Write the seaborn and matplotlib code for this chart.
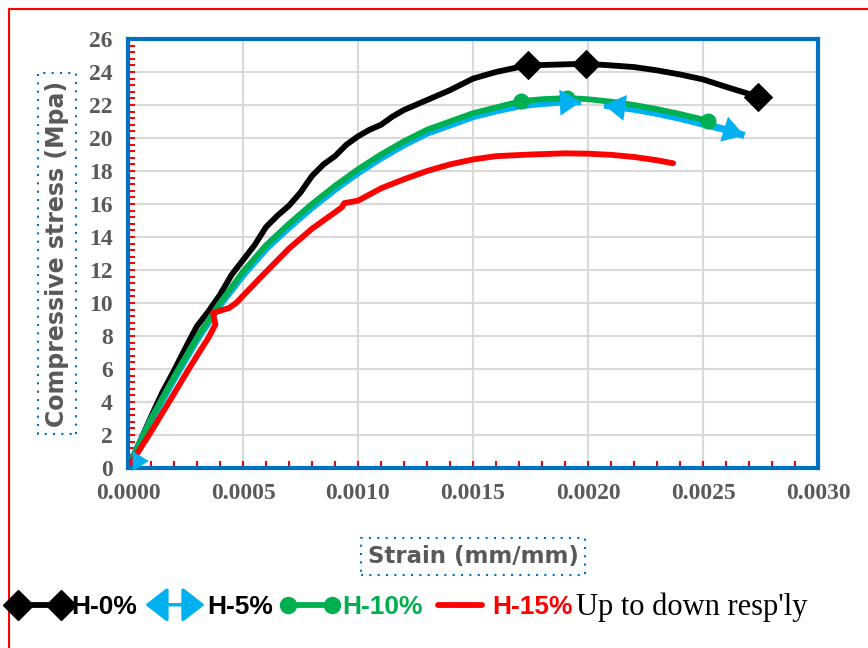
import numpy as np
import pandas as pd
import matplotlib
matplotlib.use("Agg")
import matplotlib.pyplot as plt
import seaborn as sns
from matplotlib.lines import Line2D
from matplotlib.patches import FancyArrowPatch
from matplotlib.legend_handler import HandlerBase
from matplotlib.ticker import MultipleLocator, FormatStrFormatter
from matplotlib.transforms import offset_copy

# ---------------- data ----------------
series_names = ["H-0%", "H-5%", "H-10%", "H-15%"]

black_strain = [0, 0.0001, 0.00015, 0.0002, 0.00026, 0.0003, 0.00035, 0.0004, 0.00045, 0.0005,
                0.00055, 0.0006, 0.00065, 0.0007, 0.00075, 0.0008, 0.00085, 0.0009, 0.00095, 0.001,
                0.00105, 0.0011, 0.00115, 0.0012, 0.0013, 0.0014, 0.0015, 0.0016, 0.0017, 0.00174,
                0.00199, 0.0021, 0.0022, 0.0023, 0.0024, 0.0025, 0.0026, 0.00274]
black_stress = [0, 3.1, 4.6, 5.9, 7.55, 8.6, 9.5, 10.5, 11.7, 12.6,
                13.5, 14.6, 15.3, 15.9, 16.7, 17.7, 18.4, 18.9, 19.6, 20.1,
                20.5, 20.8, 21.3, 21.7, 22.3, 22.9, 23.6, 24.0, 24.3, 24.4,
                24.5, 24.4, 24.3, 24.1, 23.85, 23.55, 23.1, 22.5]

blue_strain_a = [0, 0.0001, 0.0002, 0.0003, 0.0004, 0.0005, 0.0006, 0.0007, 0.0008, 0.0009, 0.001,
                 0.0011, 0.0012, 0.0013, 0.0014, 0.0015, 0.0016, 0.0017, 0.0018, 0.0019, 0.00197]
blue_stress_a = [0, 2.9, 5.4, 7.8, 9.9, 11.7, 13.3, 14.6, 15.8, 16.9, 17.9,
                 18.8, 19.6, 20.3, 20.8, 21.3, 21.65, 21.95, 22.1, 22.2, 22.2]
blue_strain_b = [0.00207, 0.0022, 0.0023, 0.0024, 0.0025, 0.0026, 0.00268]
blue_stress_b = [22.0, 21.75, 21.5, 21.2, 20.85, 20.5, 20.15]

green_strain = [0, 0.0001, 0.0002, 0.0003, 0.0004, 0.0005, 0.0006, 0.0007, 0.0008, 0.0009, 0.001,
                0.0011, 0.0012, 0.0013, 0.0014, 0.0015, 0.0016, 0.00171, 0.0018, 0.00191, 0.002,
                0.0021, 0.0022, 0.0023, 0.0024, 0.00252]
green_stress = [0, 2.95, 5.5, 7.9, 10.0, 11.9, 13.5, 14.8, 16.0, 17.1, 18.1,
                19.0, 19.8, 20.5, 21.0, 21.5, 21.85, 22.24, 22.35, 22.42, 22.35,
                22.2, 22.0, 21.75, 21.45, 21.05]

red_strain = [0, 0.0001, 0.0002, 0.00026, 0.0003, 0.00035, 0.00038, 0.00037, 0.00044, 0.00047,
              0.00058, 0.0007, 0.0008, 0.0009, 0.00093, 0.00094, 0.001, 0.0011, 0.0012, 0.0013,
              0.0014, 0.0015, 0.0016, 0.00175, 0.0019, 0.002, 0.0021, 0.0022, 0.0023, 0.00237]
red_stress = [0, 2.2, 4.5, 5.9, 6.8, 7.9, 8.7, 9.4, 9.7, 10.0,
              11.6, 13.3, 14.5, 15.5, 15.8, 16.05, 16.2, 16.95, 17.5, 18.0,
              18.4, 18.7, 18.9, 19.0, 19.07, 19.05, 18.98, 18.85, 18.65, 18.47]

black_mark_strain = [0.00174, 0.00199, 0.00274]
black_mark_stress = [24.4, 24.5, 22.5]
green_mark_strain = [0.00171, 0.00191, 0.00252]
green_mark_stress = [22.24, 22.42, 21.05]

x_ticks = [0, 0.0005, 0.001, 0.0015, 0.002, 0.0025, 0.003]
y_ticks = list(range(0, 27, 2))

# ---------------- styling ----------------
BLACK, BLUE, GREEN, RED = "#000000", "#00B0F0", "#00B050", "#FF0000"
palette = dict(zip(series_names, [BLACK, BLUE, GREEN, RED]))
GREY = "#595959"

sns.set_style("white")
fig = plt.figure(figsize=(8.68, 6.48), dpi=100)
ax = fig.add_axes([128 / 868, 1 - 468 / 648, 690 / 868, 429 / 648])

frames = []
for name, seg, xs, ys in [("H-0%", "a", black_strain, black_stress),
                          ("H-5%", "a", blue_strain_a, blue_stress_a),
                          ("H-5%", "b", blue_strain_b, blue_stress_b),
                          ("H-10%", "a", green_strain, green_stress),
                          ("H-15%", "a", red_strain, red_stress)]:
    frames.append(pd.DataFrame({"strain": xs, "stress": ys, "series": name, "seg": name + seg}))
df = pd.concat(frames, ignore_index=True)

sns.lineplot(data=df, x="strain", y="stress", hue="series", hue_order=series_names,
             units="seg", estimator=None, sort=False, palette=palette,
             linewidth=4.2, legend=False, ax=ax)
for ln in ax.lines:
    ln.set_solid_capstyle("round")
    ln.set_solid_joinstyle("round")
    if matplotlib.colors.to_hex(ln.get_color()).lower() == BLUE.lower():
        ln.set_linewidth(5.2)
        ln.set_solid_capstyle("butt")

sns.scatterplot(x=black_mark_strain, y=black_mark_stress, marker="D", s=15 ** 2,
                color=BLACK, linewidth=0, ax=ax, zorder=5, clip_on=False)
sns.scatterplot(x=green_mark_strain, y=green_mark_stress, marker="o", s=11.5 ** 2,
                color=GREEN, linewidth=0, ax=ax, zorder=5, clip_on=False)

# blue arrow heads
aprops = dict(arrowstyle="-|>,head_length=0.9,head_width=0.55", mutation_scale=17,
              color=BLUE, lw=0, shrinkA=0, shrinkB=0)
ax.annotate("", xy=(blue_strain_b[-1], blue_stress_b[-1]),
            xytext=(blue_strain_b[-2], blue_stress_b[-2]), arrowprops=aprops,
            annotation_clip=False, zorder=6)
ax.annotate("", xy=(blue_strain_a[-1], blue_stress_a[-1]),
            xytext=(blue_strain_a[-3], blue_stress_a[-3]), arrowprops=aprops,
            annotation_clip=False, zorder=6)
ax.annotate("", xy=(blue_strain_b[0], blue_stress_b[0]),
            xytext=(blue_strain_b[1], blue_stress_b[1]), arrowprops=aprops,
            annotation_clip=False, zorder=6)
tip_tr = offset_copy(ax.transData, fig=fig, x=15, y=5, units="points")
tail_tr = offset_copy(ax.transData, fig=fig, x=0, y=5, units="points")
ax.annotate("", xy=(blue_strain_a[0], blue_stress_a[0]), xycoords=tip_tr,
            xytext=(blue_strain_a[0], blue_stress_a[0]), textcoords=tail_tr,
            arrowprops=dict(aprops, mutation_scale=13), annotation_clip=False, zorder=6)

# axes
ax.set_xlim(x_ticks[0], x_ticks[-1])
ax.set_ylim(y_ticks[0], y_ticks[-1])
ax.set_xticks(x_ticks)
ax.set_yticks(y_ticks)
ax.xaxis.set_minor_locator(MultipleLocator(0.0001))
ax.yaxis.set_minor_locator(MultipleLocator(0.4))
ax.xaxis.set_major_formatter(FormatStrFormatter("%.4f"))
ax.grid(True, which="major", color="#D9D9D9", linewidth=1.5)
ax.set_axisbelow(True)
ax.tick_params(which="both", direction="in", color=RED, width=1.5, length=5,
               left=True, bottom=True, top=False, right=False)
ax.tick_params(which="major", labelsize=17, labelcolor=GREY, pad=11)
for lab in ax.get_xticklabels() + ax.get_yticklabels():
    lab.set_fontfamily("Liberation Serif")
    lab.set_fontweight("bold")
for s in ax.spines.values():
    s.set_color("#0070C0")
    s.set_linewidth(3)
    s.set_zorder(4)

box = dict(boxstyle="square,pad=0.3", fc="none", ec="#0070C0", ls=(0, (1, 3)), lw=1.5)
ax.set_xlabel("Strain (mm/mm)", fontsize=16.5, fontweight="bold", color=GREY,
              family="DejaVu Sans", bbox=box)
ax.xaxis.set_label_coords(0.5, -0.207)
ax.xaxis.label.set_va("center")
ax.set_ylabel("Compressive stress (Mpa)", fontsize=17, fontweight="bold", color=GREY,
              family="DejaVu Sans", bbox=box)
ax.yaxis.set_label_coords(-0.103, 0.5)
ax.yaxis.label.set_va("center")


# legend
class ArrowHandler(HandlerBase):
    def create_artists(self, legend, orig_handle, xdescent, ydescent, width, height,
                       fontsize, trans):
        y = height / 2 - ydescent
        p = FancyArrowPatch((-xdescent, y), (width - xdescent, y),
                            arrowstyle="<|-|>,head_length=0.9,head_width=0.7",
                            mutation_scale=15, color=BLUE, lw=2.5, shrinkA=0, shrinkB=0,
                            transform=trans)
        return [p]


h0 = Line2D([], [], color=BLACK, lw=4.2, marker="D", ms=15)
h5 = Line2D([], [], color=BLUE, lw=3)
h10 = Line2D([], [], color=GREEN, lw=4.2, marker="o", ms=11.5)
h15 = Line2D([], [], color=RED, lw=4.2, solid_capstyle="round")
leg = fig.legend(handles=[h0, h5, h10, h15], labels=series_names, loc="center left",
                 bbox_to_anchor=(10 / 868, 1 - 607 / 648), ncol=4, frameon=False,
                 handlelength=2.25, handletextpad=0.08, columnspacing=0.3, numpoints=2,
                 borderaxespad=0, borderpad=0,
                 prop=dict(family="Liberation Sans", weight="bold", size=19),
                 handler_map={h5: ArrowHandler()})
for t, c in zip(leg.get_texts(), [BLACK, BLACK, GREEN, RED]):
    t.set_color(c)

fig.canvas.draw()
bb = leg.get_window_extent().transformed(fig.transFigure.inverted())
fig.text(bb.x1 + 4 / 868, 1 - 607 / 648, "Up to down resp'ly", family="Liberation Serif",
         fontsize=22, color=BLACK, va="center", ha="left")

# outer red frame
fig.add_artist(Line2D([9 / 868, 9 / 868], [0, 1 - 9 / 648], color=RED, lw=1.5,
                      transform=fig.transFigure))
fig.add_artist(Line2D([9 / 868, 1], [1 - 9 / 648, 1 - 9 / 648], color=RED, lw=1.5,
                      transform=fig.transFigure))

fig.savefig("out.png", dpi=100)
